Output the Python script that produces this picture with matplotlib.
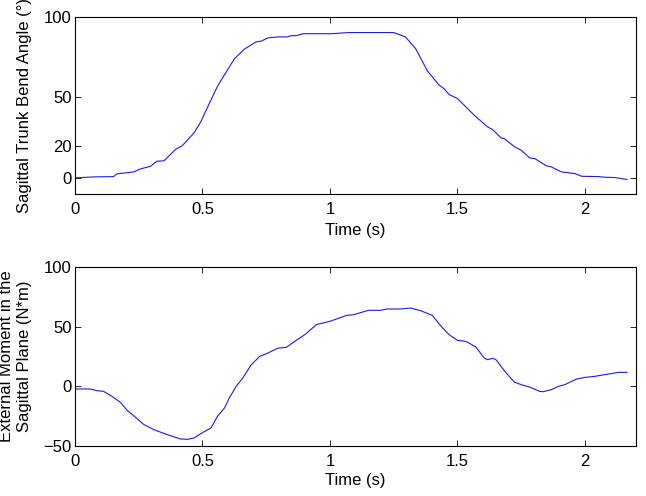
import numpy as np
import matplotlib
matplotlib.use("Agg")
import matplotlib.pyplot as plt

plt.rcParams['font.family'] = ['Liberation Sans', 'DejaVu Sans']
plt.rcParams['font.size'] = 12

# Trunk bend angle (deg) vs time (s)
t_angle = [0.0, 0.072, 0.151, 0.164, 0.23, 0.257, 0.296, 0.322, 0.349, 0.395,
           0.42, 0.467, 0.493, 0.526, 0.559, 0.625, 0.664, 0.71, 0.73, 0.757,
           0.796, 0.83, 0.849, 0.868, 0.895, 1.007, 1.072, 1.25, 1.296, 1.336,
           1.382, 1.428, 1.447, 1.467, 1.5, 1.566, 1.618, 1.638, 1.671, 1.684,
           1.724, 1.75, 1.783, 1.803, 1.849, 1.868, 1.908, 1.96, 1.987, 2.053,
           2.079, 2.118, 2.165]
angle = [0.0, 0.6, 0.8, 2.5, 3.7, 5.6, 7.2, 10.4, 10.6, 17.8,
         19.9, 28.0, 34.8, 46.0, 57.0, 74.0, 80.0, 84.5, 85.0, 87.0,
         87.6, 87.6, 88.4, 88.4, 89.6, 89.6, 90.3, 90.3, 87.6, 80.3,
         66.5, 57.6, 55.5, 51.8, 49.3, 38.9, 31.7, 30.0, 24.8, 24.4,
         19.3, 17.2, 12.4, 12.0, 7.5, 6.8, 3.7, 2.7, 1.0, 0.8,
         0.4, 0.2, -1.0]

# External moment in the sagittal plane (N*m) vs time (s)
t_moment = [0.0, 0.059, 0.086, 0.112, 0.145, 0.178, 0.204, 0.23, 0.27, 0.309,
            0.362, 0.414, 0.441, 0.467, 0.493, 0.533, 0.559, 0.586, 0.605, 0.632,
            0.658, 0.691, 0.724, 0.757, 0.796, 0.829, 0.862, 0.901, 0.947, 1.0,
            1.066, 1.092, 1.151, 1.197, 1.224, 1.276, 1.316, 1.355, 1.401, 1.434,
            1.467, 1.5, 1.533, 1.572, 1.605, 1.618, 1.638, 1.651, 1.691, 1.724,
            1.75, 1.783, 1.822, 1.836, 1.868, 1.895, 1.921, 1.967, 2.0, 2.039,
            2.092, 2.132, 2.165]
moment = [-2.2, -2.2, -3.6, -4.2, -8.4, -13.4, -20.0, -24.6, -32.0, -36.3,
          -40.5, -44.1, -44.4, -43.3, -39.7, -34.9, -25.0, -18.2, -9.8, 0.0,
          7.0, 18.0, 25.0, 28.0, 32.0, 32.7, 37.7, 43.3, 51.7, 54.5,
          59.5, 60.0, 63.7, 63.7, 64.8, 64.8, 65.6, 63.4, 59.5, 50.8,
          43.3, 38.5, 37.7, 33.0, 23.7, 22.3, 23.5, 22.3, 11.2, 3.4,
          1.4, -0.6, -4.2, -4.5, -2.8, 0.0, 1.4, 6.1, 7.5, 8.4,
          10.3, 11.7, 11.7]

xticks = [0, 0.5, 1, 1.5, 2]
xtick_labels = ['0', '0.5', '1', '1.5', '2']

fig = plt.figure(figsize=(6.46, 4.96), dpi=100)
ax1 = fig.add_axes([0.1161, 0.6089, 0.8684, 0.3569])
ax2 = fig.add_axes([0.1161, 0.1008, 0.8684, 0.3609])

ax1.plot(t_angle, angle, color='#1a1aee', lw=0.8)
ax1.set_xlim(0, 2.2)
ax1.set_ylim(-10, 100)
ax1.set_yticks([0, 20, 50, 100])
ax1.set_ylabel('Sagittal Trunk Bend Angle (°)')

ax2.plot(t_moment, moment, color='#1a1aee', lw=0.8)
ax2.set_xlim(0, 2.2)
ax2.set_ylim(-50, 100)
ax2.set_yticks([-50, 0, 50, 100])
ax2.set_ylabel('External Moment in the\nSagittal Plane (N*m)')

for ax in (ax1, ax2):
    ax.set_xticks(xticks)
    ax.set_xticklabels(xtick_labels)
    ax.set_xlabel('Time (s)')
    ax.tick_params(direction='in', top=True, right=True, length=4, width=0.6)
    ax.tick_params(axis='x', pad=6)
    ax.tick_params(axis='y', pad=2.5)
    for s in ax.spines.values():
        s.set_linewidth(0.8)
    ax.yaxis.set_label_coords(-0.077, 0.5)

ax1.xaxis.set_label_coords(0.5, -0.164)
ax2.xaxis.set_label_coords(0.5, -0.151)

fig.savefig('out.png', dpi=100)
